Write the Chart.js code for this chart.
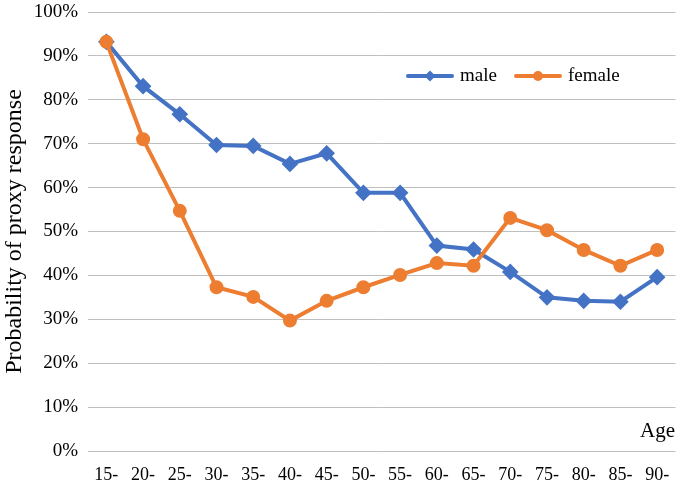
<!DOCTYPE html>
<html>
<head>
<meta charset="utf-8">
<script src="https://cdn.jsdelivr.net/npm/chart.js@4/dist/chart.umd.min.js"></script>
<style>
html,body{margin:0;padding:0;background:#fff;}
#wrap{width:685px;height:486px;position:relative;}
</style>
</head>
<body>
<div id="wrap"><canvas id="c" width="685" height="486"></canvas></div>
<script>
const ageGroups = ["15-","20-","25-","30-","35-","40-","45-","50-","55-","60-","65-","70-","75-","80-","85-","90-"];
const maleValues = [93.2,83.1,76.7,69.7,69.5,65.4,67.8,58.8,58.8,46.8,45.9,40.8,35.0,34.2,34.0,39.6];
const femaleValues = [93.2,71.0,54.7,37.3,35.1,29.7,34.2,37.3,40.1,42.8,42.2,53.1,50.3,45.8,42.2,45.8];
const yTicks = [0,10,20,30,40,50,60,70,80,90,100];
const seriesNames = ["male","female"];
const axisTitleY = "Probability of proxy response";
const axisTitleX = "Age";

const BLUE = "#4472C4", ORANGE = "#ED7D31";
const FONT = "'Liberation Serif','Times New Roman',serif";

const overlay = {
  id: 'overlay',
  afterDraw(chart) {
    const ctx = chart.ctx;
    ctx.save();
    const ly = 76;
    const items = [
      {x: 406, color: BLUE, shape: 'diamond', label: seriesNames[0]},
      {x: 514, color: ORANGE, shape: 'circle', label: seriesNames[1]}
    ];
    items.forEach(it => {
      ctx.strokeStyle = it.color; ctx.lineWidth = 4; ctx.lineCap = 'round';
      ctx.beginPath(); ctx.moveTo(it.x + 2, ly); ctx.lineTo(it.x + 46, ly); ctx.stroke();
      ctx.fillStyle = it.color;
      const cx = it.x + 24;
      ctx.beginPath();
      if (it.shape === 'diamond') {
        ctx.moveTo(cx, ly - 5.5); ctx.lineTo(cx + 5.5, ly); ctx.lineTo(cx, ly + 5.5); ctx.lineTo(cx - 5.5, ly); ctx.closePath();
      } else {
        ctx.arc(cx, ly, 5, 0, Math.PI * 2);
      }
      ctx.fill();
      ctx.fillStyle = '#000';
      ctx.font = "19px " + FONT;
      ctx.textBaseline = 'middle'; ctx.textAlign = 'left';
      ctx.fillText(it.label, it.x + 54, ly);
    });
    ctx.font = "21px " + FONT;
    ctx.textAlign = 'right'; ctx.textBaseline = 'middle';
    ctx.fillStyle = '#000';
    ctx.fillText(axisTitleX, 675, 431);
    ctx.restore();
  }
};

new Chart(document.getElementById('c'), {
  type: 'line',
  data: {
    labels: ageGroups,
    datasets: [
      {label: seriesNames[0], data: maleValues, borderColor: BLUE, backgroundColor: BLUE, order: 1,
       borderWidth: 4, pointStyle: 'rectRot', pointRadius: 5.5, pointHoverRadius: 5.5, tension: 0},
      {label: seriesNames[1], data: femaleValues, borderColor: ORANGE, backgroundColor: ORANGE, order: 0,
       borderWidth: 4, pointStyle: 'circle', pointRadius: 5, pointHoverRadius: 5, tension: 0}
    ]
  },
  options: {
    responsive: false,
    animation: false,
    events: [],
    layout: {padding: {top: 12, right: 0, left: 0, bottom: 0}},
    plugins: {legend: {display: false}, tooltip: {enabled: false}},
    scales: {
      x: {
        offset: true,
        grid: {display: false, drawTicks: false},
        border: {display: false},
        ticks: {color: '#000', font: {family: FONT, size: 18}, padding: 13, maxRotation: 0, autoSkip: false},
        afterFit(s) { s.height = 35; s.paddingLeft = 0; s.paddingRight = 0; }
      },
      y: {
        min: 0, max: 100,
        afterBuildTicks(s) { s.ticks = yTicks.map(v => ({value: v})); },
        grid: {color: '#BFBFBF', lineWidth: 1, drawTicks: false},
        border: {display: false},
        ticks: {color: '#000', font: {family: FONT, size: 19}, padding: 10, callback: v => v + '%'},
        title: {display: true, text: axisTitleY, color: '#000', font: {family: FONT, size: 24}, padding: {top: 0, bottom: 0}},
        afterFit(s) { s.width = 88; s.paddingTop = 0; s.paddingBottom = 0; }
      }
    }
  },
  plugins: [overlay]
});
</script>
</body>
</html>
